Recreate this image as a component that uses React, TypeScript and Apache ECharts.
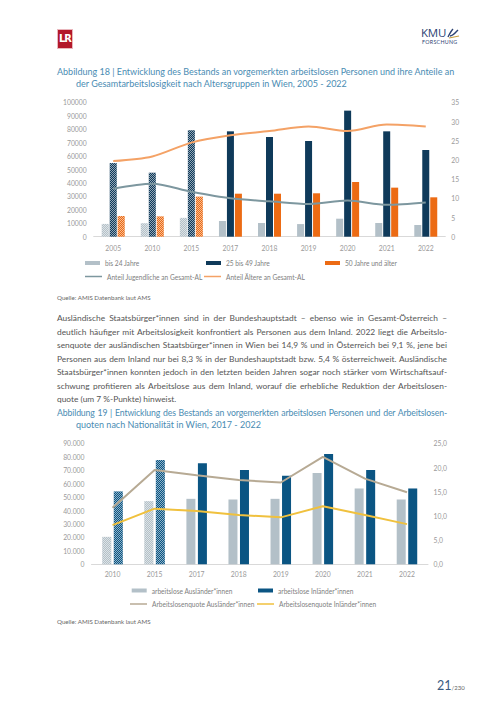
import React, { useEffect, useRef } from "react";
import * as echarts from "echarts";

// ---------- Data: Abbildung 18 ----------
const years1 = ["2005", "2010", "2015", "2017", "2018", "2019", "2020", "2021", "2022"];
const youth = [9500, 10000, 14000, 11700, 10200, 9400, 13400, 10200, 8700];
const middle = [54800, 47600, 79200, 78400, 74200, 71200, 93800, 78400, 64500];
const older = [15400, 15100, 29800, 32000, 32000, 32300, 40700, 36500, 29300];
const shareYouth = [12.5, 13.8, 11.7, 10.0, 9.2, 8.5, 9.4, 8.3, 8.9];
const shareOlder = [19.7, 20.9, 24.5, 26.4, 27.5, 28.7, 27.5, 29.2, 28.7];
const patterned1 = ["2005", "2010", "2015"];

// ---------- Data: Abbildung 19 ----------
const years2 = ["2010", "2015", "2017", "2018", "2019", "2020", "2021", "2022"];
const foreigners = [20400, 47000, 48700, 48200, 48700, 67900, 56400, 48200];
const nationals = [54200, 77600, 75100, 70100, 65900, 82000, 70100, 56400];
const rateForeign = [11.7, 19.5, 18.4, 17.4, 16.9, 22.2, 17.7, 14.9];
const rateNational = [8.1, 11.5, 11.0, 10.2, 9.7, 12.0, 10.2, 8.3];
const patterned2 = ["2010", "2015"];

const paragraph = [
  "Ausländische Staatsbürger*innen sind in der Bundeshauptstadt – ebenso wie in Gesamt-Österreich –",
  "deutlich häufiger mit Arbeitslosigkeit konfrontiert als Personen aus dem Inland. 2022 liegt die Arbeitslo-",
  "senquote der ausländischen Staatsbürger*innen in Wien bei 14,9 % und in Österreich bei 9,1 %, jene bei",
  "Personen aus dem Inland nur bei 8,3 % in der Bundeshauptstadt bzw. 5,4 % österreichweit. Ausländische",
  "Staatsbürger*innen konnten jedoch in den letzten beiden Jahren sogar noch stärker vom Wirtschaftsauf-",
  "schwung profitieren als Arbeitslose aus dem Inland, worauf die erhebliche Reduktion der Arbeitslosen-",
  "quote (um 7 %-Punkte) hinweist.",
];

const FONT = "Lato, 'Open Sans', sans-serif";
const AXIS_COLOR = "#9a9a9a";
const CAPTION = "#4a8cb3";

const decal = {
  symbol: "rect",
  symbolSize: 1,
  dashArrayX: [[1, 1], [0, 1, 1, 0]],
  dashArrayY: [1, 0],
  color: "rgba(255,255,255,0.55)",
};

function withPattern(years: string[], values: number[], patterned: string[]) {
  return values.map((v, i) =>
    patterned.includes(years[i]) ? { value: v, itemStyle: { decal } } : v
  );
}

function legendItem(name: string, left: number, top: number, isLine: boolean) {
  return {
    data: [name],
    left,
    top,
    icon: "rect",
    itemWidth: isLine ? 17 : 15,
    itemHeight: isLine ? 1.5 : 4,
    padding: 0,
    textStyle: { color: "#808080", fontSize: 6.6, fontFamily: FONT },
    selectedMode: false,
  };
}

const plainFmt = (v: number) => String(v);
const dotFmt = (v: number) => String(v).replace(/\B(?=(\d{3})+(?!\d))/g, ".");
const commaFmt = (v: number) => v.toFixed(1).replace(".", ",");

function option1() {
  const axisLabel = { color: AXIS_COLOR, fontSize: 6.8, fontFamily: FONT };
  return {
    animation: false,
    grid: { left: 93.7, right: 58.7, top: 7.3, height: 134.4 },
    xAxis: {
      type: "category",
      data: years1,
      axisLine: { lineStyle: { color: "#d9d9d9" } },
      axisTick: { show: false },
      axisLabel: { ...axisLabel, margin: 8 },
    },
    yAxis: [
      {
        type: "value",
        min: 0,
        max: 100000,
        interval: 10000,
        splitLine: { show: false },
        axisLabel: { ...axisLabel, margin: 7, formatter: plainFmt },
      },
      {
        type: "value",
        min: 0,
        max: 35,
        interval: 5,
        position: "right",
        splitLine: { show: false },
        axisLabel: { ...axisLabel, margin: 6, formatter: plainFmt },
      },
    ],
    legend: [
      legendItem("bis 24 Jahre", 85, 164.5, false),
      legendItem("25 bis 49 Jahre", 206, 164.5, false),
      legendItem("50 Jahre und älter", 325, 164.5, false),
      legendItem("Anteil Jugendliche an Gesamt-AL", 85, 178, true),
      legendItem("Anteil Ältere an Gesamt-AL", 204, 178, true),
    ],
    series: [
      {
        name: "bis 24 Jahre",
        type: "bar",
        barWidth: 7,
        barGap: "14%",
        itemStyle: { color: "#b3c0c8" },
        data: withPattern(years1, youth, patterned1),
      },
      {
        name: "25 bis 49 Jahre",
        type: "bar",
        barWidth: 7,
        barGap: "14%",
        itemStyle: { color: "#0f3a5a" },
        data: withPattern(years1, middle, patterned1),
      },
      {
        name: "50 Jahre und älter",
        type: "bar",
        barWidth: 7,
        barGap: "14%",
        itemStyle: { color: "#ec6b14" },
        data: withPattern(years1, older, patterned1),
      },
      {
        name: "Anteil Jugendliche an Gesamt-AL",
        type: "line",
        yAxisIndex: 1,
        smooth: 0.3,
        symbol: "none",
        z: 5,
        lineStyle: { width: 2, color: "#7d979f" },
        itemStyle: { color: "#7d979f" },
        data: shareYouth,
      },
      {
        name: "Anteil Ältere an Gesamt-AL",
        type: "line",
        yAxisIndex: 1,
        smooth: 0.3,
        symbol: "none",
        z: 5,
        lineStyle: { width: 2, color: "#f4a266" },
        itemStyle: { color: "#f4a266" },
        data: shareOlder,
      },
    ],
  };
}

function option2() {
  const axisLabel = { color: AXIS_COLOR, fontSize: 6.8, fontFamily: FONT };
  return {
    animation: false,
    grid: { left: 91.5, right: 76, top: 8.3, height: 121 },
    xAxis: {
      type: "category",
      data: years2,
      axisLine: { lineStyle: { color: "#d9d9d9" } },
      axisTick: { show: false },
      axisLabel: { ...axisLabel, margin: 6 },
    },
    yAxis: [
      {
        type: "value",
        min: 0,
        max: 90000,
        interval: 10000,
        splitLine: { show: false },
        axisLabel: { ...axisLabel, margin: 7, formatter: dotFmt },
      },
      {
        type: "value",
        min: 0,
        max: 25,
        interval: 5,
        position: "right",
        splitLine: { show: false },
        axisLabel: { ...axisLabel, margin: 5.5, formatter: commaFmt },
      },
    ],
    legend: [
      legendItem("arbeitslose Ausländer*innen", 131.7, 152, false),
      legendItem("arbeitslose Inländer*innen", 258, 152, false),
      legendItem("Arbeitslosenquote Ausländer*innen", 130, 165.5, true),
      legendItem("Arbeitslosenquote Inländer*innen", 257, 165.5, true),
    ],
    series: [
      {
        name: "arbeitslose Ausländer*innen",
        type: "bar",
        barWidth: 9,
        barGap: "28%",
        itemStyle: { color: "#b3c0c8" },
        data: withPattern(years2, foreigners, patterned2),
      },
      {
        name: "arbeitslose Inländer*innen",
        type: "bar",
        barWidth: 9,
        barGap: "28%",
        itemStyle: { color: "#0b5583" },
        data: withPattern(years2, nationals, patterned2),
      },
      {
        name: "Arbeitslosenquote Ausländer*innen",
        type: "line",
        yAxisIndex: 1,
        symbol: "none",
        z: 5,
        lineStyle: { width: 2, color: "#b7aa94" },
        itemStyle: { color: "#b7aa94" },
        data: rateForeign,
      },
      {
        name: "Arbeitslosenquote Inländer*innen",
        type: "line",
        yAxisIndex: 1,
        symbol: "none",
        z: 5,
        lineStyle: { width: 2, color: "#f0c13e" },
        itemStyle: { color: "#f0c13e" },
        data: rateNational,
      },
    ],
  };
}

function Chart({ top, height, build }: { top: number; height: number; build: () => any }) {
  const ref = useRef<HTMLDivElement>(null);
  useEffect(() => {
    if (!ref.current) return;
    const chart = echarts.init(ref.current, undefined, { renderer: "svg" });
    chart.setOption(build());
    return () => chart.dispose();
  }, []);
  return (
    <div
      ref={ref}
      style={{ position: "absolute", left: 0, top, width: 504, height }}
    />
  );
}

function Line({ text, left, center, size, color, width, justify, spacing }: any) {
  const lh = 12;
  return (
    <div
      style={{
        position: "absolute",
        left,
        top: center - lh / 2,
        width,
        height: lh,
        lineHeight: lh + "px",
        fontSize: size,
        color,
        letterSpacing: spacing || 0,
        whiteSpace: "nowrap",
        textAlign: justify ? "justify" : "left",
        textAlignLast: justify ? "justify" : "left",
      } as any}
    >
      {text}
    </div>
  );
}

export default function App() {
  return (
    <div
      style={{
        position: "absolute",
        left: 0,
        top: 0,
        width: 504,
        height: 712,
        background: "#fff",
        overflow: "hidden",
        fontFamily: FONT,
      }}
    >
      {/* LR logo */}
      <div
        style={{
          position: "absolute",
          left: 57,
          top: 29,
          width: 14,
          height: 18,
          background: "#b3182a",
          border: "1px solid #e9b7bd",
          color: "#fff",
          fontFamily: "'DejaVu Sans Condensed', sans-serif",
          fontWeight: 700,
          fontSize: 11,
          lineHeight: "18px",
          textAlign: "center",
          letterSpacing: -1,
        }}
      >
        LR
      </div>
      {/* KMU logo */}
      <div
        style={{
          position: "absolute",
          left: 421,
          top: 26,
          fontSize: 11.5,
          color: "#2d4373",
          fontFamily: "'Open Sans', sans-serif",
          lineHeight: "13px",
          letterSpacing: -0.2,
        }}
      >
        KMU
      </div>
      <svg style={{ position: "absolute", left: 446, top: 27 }} width={14} height={12}>
        <path d="M2 10 C4 6 6 3 7 2 M4 9 C7 9 9 6 12 3" stroke="#2d4373" strokeWidth={1.4} fill="none" />
        <path d="M3 11 L13 9" stroke="#c9a13f" strokeWidth={1.2} fill="none" />
      </svg>
      <div
        style={{
          position: "absolute",
          left: 422,
          top: 39,
          fontSize: 5.3,
          color: "#2d4373",
          letterSpacing: 0.3,
          lineHeight: "7px",
        }}
      >
        FORSCHUNG
      </div>

      {/* Caption 18 */}
      <Line
        text="Abbildung 18 | Entwicklung des Bestands an vorgemerkten arbeitslosen Personen und ihre Anteile an"
        left={57}
        center={72}
        size={9}
        color={CAPTION}
      />
      <Line
        text="der Gesamtarbeitslosigkeit nach Altersgruppen in Wien, 2005 - 2022"
        left={76}
        center={84}
        size={9}
        color={CAPTION}
      />

      <Chart top={95} height={200} build={option1} />

      <Line text="Quelle: AMIS Datenbank laut AMS" left={57} center={297.7} size={6.2} color="#666" />

      {paragraph.map((t, i) => (
        <Line
          key={i}
          text={t}
          left={57}
          width={390}
          center={318 + i * 13.5}
          size={8.4}
          color="#555"
          justify={i < paragraph.length - 1}
        />
      ))}

      {/* Caption 19 */}
      <Line
        text="Abbildung 19 | Entwicklung des Bestands an vorgemerkten arbeitslosen Personen und der Arbeitslosen-"
        left={57}
        width={390}
        center={413}
        size={8.7}
        spacing={-0.12}
        color={CAPTION}
        justify
      />
      <Line
        text="quoten nach Nationalität in Wien, 2017 - 2022"
        left={76}
        center={425}
        size={9}
        color={CAPTION}
      />

      <Chart top={435} height={200} build={option2} />

      <Line text="Quelle: AMIS Datenbank laut AMS" left={57} center={622} size={6.2} color="#666" />

      {/* Page number */}
      <div
        style={{
          position: "absolute",
          left: 437,
          top: 678,
          fontSize: 12.5,
          color: "#3a5b82",
          lineHeight: "16px",
          whiteSpace: "nowrap",
        }}
      >
        21<span style={{ fontSize: 6, color: "#666" }}>/230</span>
      </div>
    </div>
  );
}
